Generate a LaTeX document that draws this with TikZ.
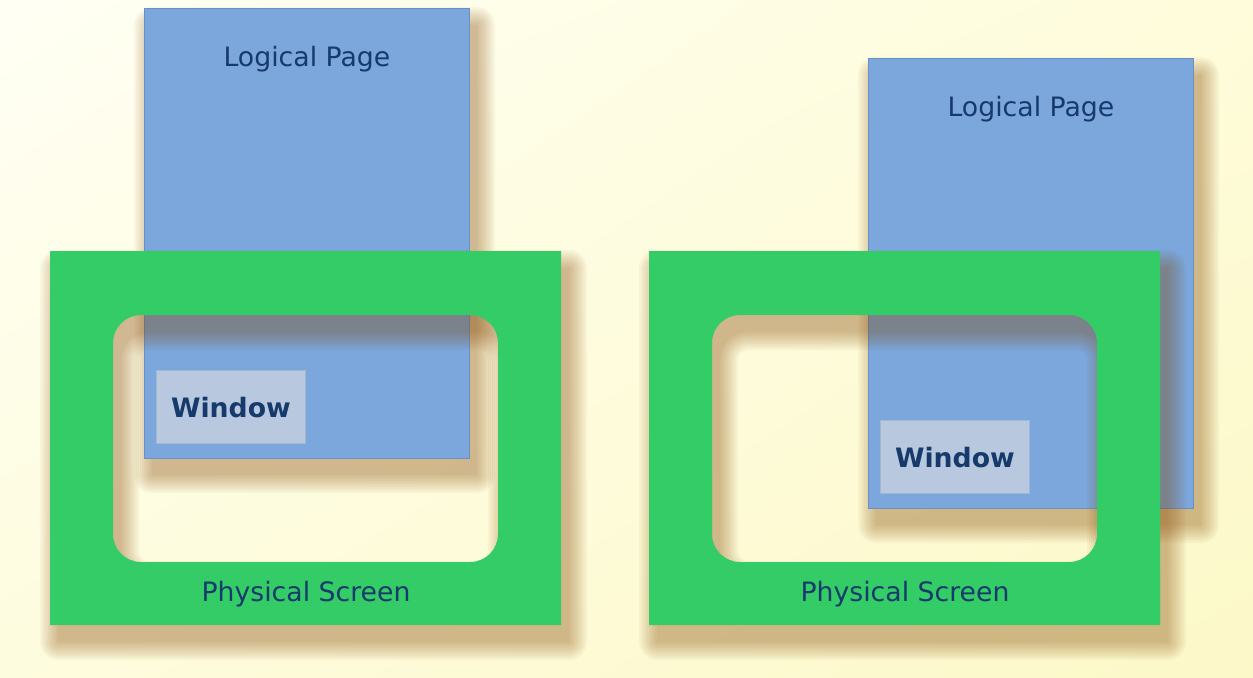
\documentclass[tikz,border=0pt]{standalone}
\usepackage{fontspec}
\setmainfont{DejaVu Sans}
\usetikzlibrary{positioning}
\usetikzlibrary{shadings}

\definecolor{pageblue}{RGB}{123,167,220}
\definecolor{pageedge}{RGB}{104,145,200}
\definecolor{screengreen}{RGB}{51,204,102}
\definecolor{winfill}{RGB}{184,200,222}
\definecolor{winedge}{RGB}{165,183,208}
\definecolor{labelblue}{RGB}{22,58,108}
\definecolor{shadowbrown}{RGB}{136,73,6}
\definecolor{creamUL}{RGB}{255,255,244}
\definecolor{creamUR}{RGB}{254,252,218}
\definecolor{creamLL}{RGB}{254,252,222}
\definecolor{creamLR}{RGB}{252,248,200}

\tikzset{
  logpage/.style={fill=pageblue, draw=pageedge, line width=0.5pt,
    minimum width=6.5cm, minimum height=9cm, anchor=north west, inner sep=0pt},
  winbox/.style={fill=winfill, draw=winedge, line width=0.5pt,
    minimum width=2.98cm, minimum height=1.46cm, anchor=south west,
    text=labelblue, font=\fontsize{15.2}{18}\selectfont\bfseries},
  screen/.style={fill=screengreen, even odd rule},
  caption/.style={text=labelblue, font=\fontsize{15.2}{18}\selectfont},
  softshade/.style={fill=shadowbrown, fill opacity=0.042, shift={(8,17)}},
}

% soft shadow of a page: corners x0,y0,x1,y1
\newcommand{\pageshadow}[4]{%
  \foreach \e [evaluate=\e as \r using 0.02*\e+0.01] in {0,2,...,18}
    \fill[softshade, rounded corners=\r cm] (#1-\e,#2-\e) rectangle (#3+\e,#4+\e);}
% soft shadow of a screen frame: outer corners x0,y0,x1,y1
\newcommand{\screenshadow}[4]{%
  \foreach \e [evaluate=\e as \r using 0.02*\e+0.01,
               evaluate=\e as \h using 0.56-0.02*\e] in {0,2,...,18}
    \fill[softshade, even odd rule, rounded corners=\r cm]
      (#1-\e,#2-\e) rectangle (#3+\e,#4+\e)
      [rounded corners=\h cm] (#1+63+\e,#2+64+\e) rectangle (#3-63-\e,#4-63-\e);}

\begin{document}
\begin{tikzpicture}[x=0.02cm, y=-0.02cm]
      \useasboundingbox (0,0) rectangle (1253,677);
      \shade[upper left=creamUL, upper right=creamUR,
             lower left=creamLL, lower right=creamLR]
        (0,0) rectangle (1253,677);

      % left: window inside the screen
      \pageshadow{144}{8}{469}{458}
      \node[logpage] (pageL) at (144,8) {};
      \node[caption, below=0.64cm of pageL.north] (pageLtext) {Logical Page};
      \node[winbox] (winL) at (156,444) {Window};
      \screenshadow{50}{251}{561}{625}
      \path[screen] (50,251) rectangle (561,625)
        [rounded corners=0.56cm] (113,315) rectangle (498,562);
      \node[caption] (screenL) at (306,594) {Physical Screen};

      % right: window partly outside the screen
      \pageshadow{868}{58}{1193}{508}
      \node[logpage] (pageR) at (868,58) {};
      \node[caption, below=0.64cm of pageR.north] (pageRtext) {Logical Page};
      \node[winbox] (winR) at (880,494) {Window};
      \screenshadow{649}{251}{1160}{625}
      \path[screen] (649,251) rectangle (1160,625)
        [rounded corners=0.56cm] (712,315) rectangle (1097,562);
      \node[caption] (screenR) at (905,594) {Physical Screen};
\end{tikzpicture}
\end{document}
